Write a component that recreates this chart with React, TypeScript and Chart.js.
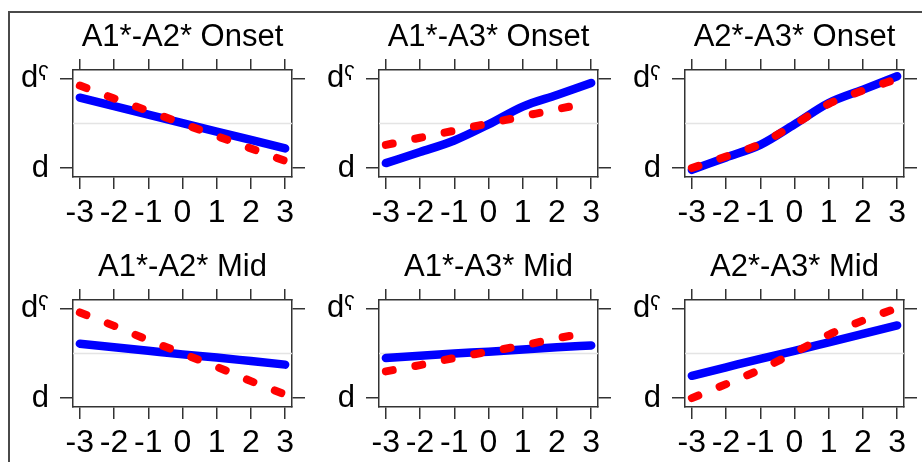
import React, { useEffect, useRef } from 'react';
import { Chart, registerables } from 'chart.js';

Chart.register(...registerables);

// ---- data ----
const xValues = [-3, -2, -1, 0, 1, 2, 3];
const xTickValues = [-3, -2, -1, 0, 1, 2, 3];
const yTickValues = [0, 1];
const yTickLabels = ['d', 'dˤ'];
const referenceLevel = 0.5;

const titles = [
  'A1*-A2* Onset',
  'A1*-A3* Onset',
  'A2*-A3* Onset',
  'A1*-A2* Mid',
  'A1*-A3* Mid',
  'A2*-A3* Mid',
];

const blueA1A2Onset = [0.79, 0.695, 0.6, 0.505, 0.41, 0.315, 0.22];
const redA1A2Onset = [0.925, 0.78, 0.64, 0.5, 0.36, 0.22, 0.08];
const blueA1A3Onset = [0.056, 0.18, 0.31, 0.49, 0.69, 0.82, 0.955];
const redA1A3Onset = [0.26, 0.34, 0.42, 0.5, 0.58, 0.66, 0.74];
const blueA2A3Onset = [-0.02, 0.12, 0.26, 0.49, 0.73, 0.88, 1.03];
const redA2A3Onset = [0.0, 0.13, 0.27, 0.49, 0.72, 0.87, 1.0];
const blueA1A2Mid = [0.61, 0.57, 0.53, 0.49, 0.455, 0.415, 0.375];
const redA1A2Mid = [0.96, 0.81, 0.65, 0.5, 0.35, 0.19, 0.04];
const blueA1A3Mid = [0.45, 0.475, 0.5, 0.52, 0.545, 0.57, 0.59];
const redA1A3Mid = [0.3, 0.37, 0.45, 0.52, 0.59, 0.67, 0.74];
const blueA2A3Mid = [0.25, 0.345, 0.44, 0.53, 0.625, 0.72, 0.815];
const redA2A3Mid = [0.0, 0.157, 0.32, 0.51, 0.71, 0.87, 1.01];

const blueSeries = [blueA1A2Onset, blueA1A3Onset, blueA2A3Onset, blueA1A2Mid, blueA1A3Mid, blueA2A3Mid];
const redSeries = [redA1A2Onset, redA1A3Onset, redA2A3Onset, redA1A2Mid, redA1A3Mid, redA2A3Mid];

// ---- layout / style ----
const X_MIN = -3.2;
const X_MAX = 3.2;
const Y_MIN = -0.1;
const Y_MAX = 1.1;
const PANEL_W = 306;
const PANEL_H = 230;
const FONT = '"Liberation Sans", Arial, Helvetica, sans-serif';
const AXIS_COLOR = '#333333';
const TITLE_SIZE = 31;
const TITLE_PAD_TOP = 19;
const TITLE_H = TITLE_PAD_TOP + TITLE_SIZE * 1.2;
const AREA_TOP = 70;
const AREA_LEFT = 73;
const AREA_RIGHT = 292;
const AREA_BOTTOM = 177;

function Panel({ index }: { index: number }) {
  const ref = useRef<HTMLCanvasElement | null>(null);
  const col = index % 3;
  const row = Math.floor(index / 3);

  useEffect(() => {
    if (!ref.current) return;
    const grid = {
      drawOnChartArea: false,
      drawTicks: true,
      color: AXIS_COLOR,
      lineWidth: 1.5,
    };
    const border = { display: true, color: AXIS_COLOR, width: 1.5 };
    const setX = (s: any) => {
      s.ticks = xTickValues.map((v) => ({ value: v }));
    };
    const setY = (s: any) => {
      s.ticks = yTickValues.map((v) => ({ value: v }));
    };
    const chart = new Chart(ref.current, {
      type: 'line',
      data: {
        datasets: [
          {
            label: 'red',
            order: 0,
            data: xValues.map((x, i) => ({ x, y: redSeries[index][i] })),
            borderColor: '#ff0000',
            borderWidth: 8,
            borderDash: [7, 23],
            pointRadius: 0,
            cubicInterpolationMode: 'monotone',
            borderCapStyle: 'round',
            borderJoinStyle: 'round',
          },
          {
            label: 'blue',
            order: 1,
            data: xValues.map((x, i) => ({ x, y: blueSeries[index][i] })),
            borderColor: '#0000ff',
            borderWidth: 8.5,
            pointRadius: 0,
            cubicInterpolationMode: 'monotone',
            borderCapStyle: 'round',
            borderJoinStyle: 'round',
          },
          {
            label: 'ref',
            order: 2,
            data: [
              { x: X_MIN, y: referenceLevel },
              { x: X_MAX, y: referenceLevel },
            ],
            borderColor: '#e4e4e4',
            borderWidth: 1.5,
            pointRadius: 0,
          },
        ],
      },
      options: {
        animation: false,
        responsive: false,
        devicePixelRatio: 1,
        layout: { padding: 0 },
        plugins: {
          legend: { display: false },
          tooltip: { enabled: false },
          title: {
            display: true,
            text: titles[index],
            fullSize: false,
            color: '#000',
            font: { size: TITLE_SIZE, family: FONT, weight: 'normal', lineHeight: 1.2 },
            padding: { top: TITLE_PAD_TOP, bottom: 0 },
          },
        },
        scales: {
          x: {
            type: 'linear',
            position: 'bottom',
            min: X_MIN,
            max: X_MAX,
            afterBuildTicks: setX,
            afterFit: (s: any) => {
              s.height = PANEL_H - AREA_BOTTOM;
            },
            ticks: {
              color: '#000',
              font: { size: 32, family: FONT, lineHeight: 1.2 },
              padding: 5,
              maxRotation: 0,
              autoSkip: false,
              callback: (v: any) => String(v),
            },
            grid: { ...grid, tickLength: 12 },
            border,
          },
          x2: {
            type: 'linear',
            position: 'top',
            min: X_MIN,
            max: X_MAX,
            afterBuildTicks: setX,
            afterFit: (s: any) => {
              s.height = AREA_TOP - TITLE_H;
            },
            ticks: { display: false },
            grid: { ...grid, tickLength: 11 },
            border,
          },
          y: {
            type: 'linear',
            position: 'left',
            min: Y_MIN,
            max: Y_MAX,
            afterBuildTicks: setY,
            afterFit: (s: any) => {
              s.width = AREA_LEFT;
            },
            ticks: {
              color: '#000',
              font: { size: 31, family: FONT, lineHeight: 1.2 },
              padding: 11,
              autoSkip: false,
              callback: (v: any) => yTickLabels[yTickValues.indexOf(Number(v))],
            },
            grid: { ...grid, tickLength: 13 },
            border,
          },
          y2: {
            type: 'linear',
            position: 'right',
            min: Y_MIN,
            max: Y_MAX,
            afterBuildTicks: setY,
            afterFit: (s: any) => {
              s.width = PANEL_W - AREA_RIGHT;
            },
            ticks: { display: false },
            grid: { ...grid, tickLength: 13 },
            border,
          },
        },
      } as any,
    });
    return () => chart.destroy();
  }, [index]);

  return (
    <canvas
      ref={ref}
      width={PANEL_W}
      height={PANEL_H}
      style={{
        position: 'absolute',
        left: col * PANEL_W,
        top: row * PANEL_H,
        width: PANEL_W,
        height: PANEL_H,
      }}
    />
  );
}

export default function App() {
  return (
    <div
      style={{
        position: 'absolute',
        left: 0,
        top: 0,
        width: 922,
        height: 462,
        overflow: 'hidden',
        background: '#fff',
      }}
    >
      <div
        style={{
          position: 'absolute',
          left: 8,
          top: 11,
          width: 940,
          height: 480,
          borderTop: '2px solid #4a4a4a',
          borderLeft: '2px solid #4a4a4a',
        }}
      />
      {titles.map((_, i) => (
        <Panel key={i} index={i} />
      ))}
    </div>
  );
}
